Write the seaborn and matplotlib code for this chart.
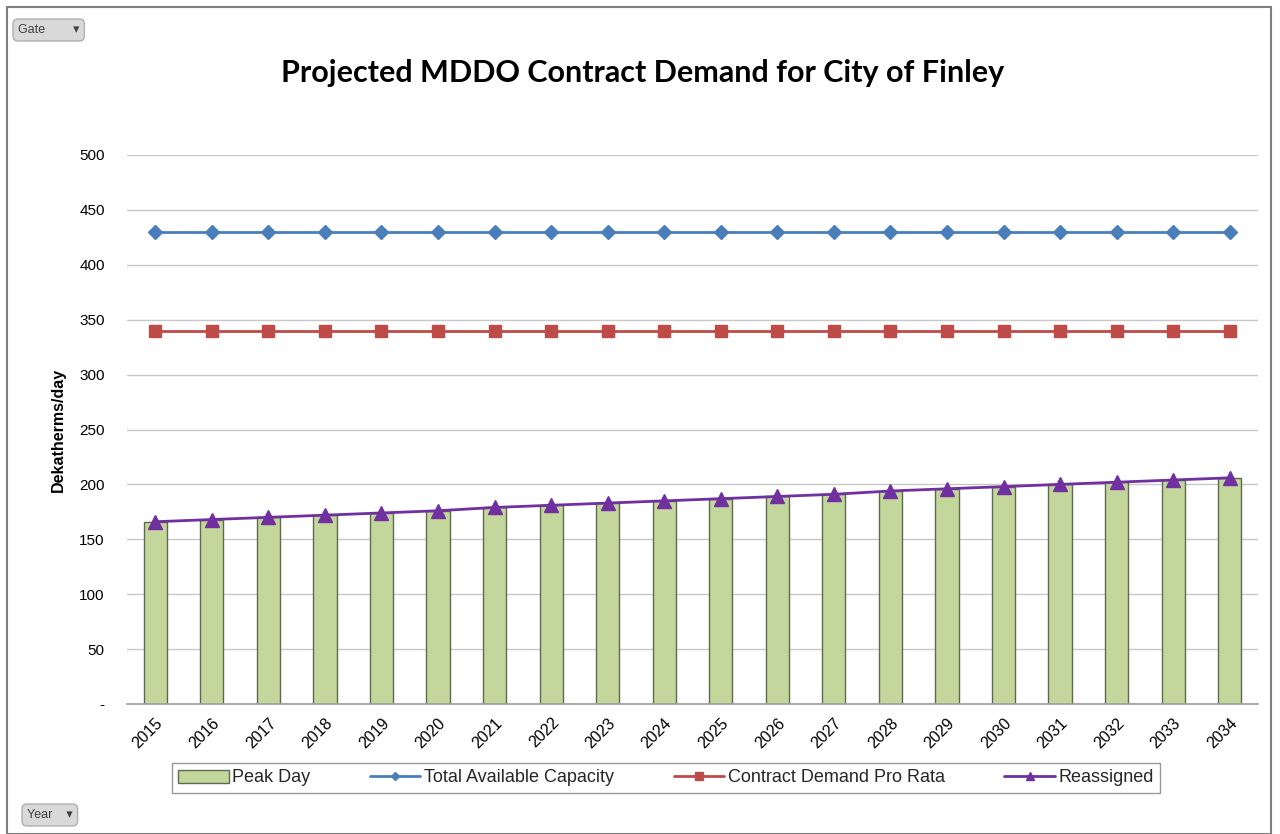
import numpy as np
import pandas as pd
import matplotlib
matplotlib.use('Agg')
import matplotlib.pyplot as plt
import seaborn as sns
from matplotlib.patches import Rectangle

# Dados do grafico
anos = [str(a) for a in range(2015, 2035)]
peak_day = [166, 168, 170, 172, 174, 176, 179, 181, 183, 185,
            187, 189, 191, 194, 196, 198, 200, 202, 204, 206]
capacidade_total = [430] * 20
contrato_pro_rata = [340] * 20
reatribuido = [166, 168, 170, 172, 174, 176, 179, 181, 183, 185,
               187, 189, 191, 194, 196, 198, 200, 202, 204, 206]
y_ticks = [0, 50, 100, 150, 200, 250, 300, 350, 400, 450, 500]
y_labels = ['-', '50', '100', '150', '200', '250', '300', '350', '400', '450', '500']

sns.set_theme(style='white')
plt.rcParams['font.family'] = ['Liberation Sans', 'DejaVu Sans']

df = pd.DataFrame({'Ano': anos, 'Peak Day': peak_day})

fig = plt.figure(figsize=(12.8, 8.34), dpi=100)
ax = fig.add_axes([127 / 1280, 1 - 704 / 834, (1258 - 127) / 1280, (704 - 155) / 834])

sns.barplot(data=df, x='Ano', y='Peak Day', color='#c3d69b', edgecolor='#5e6b4e',
            linewidth=1.0, width=0.41, saturation=1, ax=ax, label='Peak Day', zorder=2)

x = np.arange(len(anos))
ax.plot(x, capacidade_total, color='#4a7ebb', lw=2, marker='D', ms=7.5,
        label='Total Available Capacity', zorder=3)
ax.plot(x, contrato_pro_rata, color='#be4b48', lw=2, marker='s', ms=8.5,
        label='Contract Demand Pro Rata', zorder=3)
ax.plot(x, reatribuido, color='#7030a0', lw=2, marker='^', ms=9.5,
        label='Reassigned', zorder=4)

ax.set_xlim(-0.5, len(anos) - 0.5)
ax.set_ylim(0, 500)
ax.set_yticks(y_ticks)
ax.set_yticklabels(y_labels, fontsize=11, color='black')
ax.set_xticks(x)
ax.set_xticklabels(anos, rotation=45, ha='right', rotation_mode='anchor', fontsize=11.5, color='black')
ax.tick_params(axis='y', length=0, pad=16)
ax.tick_params(axis='x', length=0, pad=8)
ax.yaxis.grid(True, color='#c8c8c8', lw=1)
ax.set_axisbelow(True)
for s in ['top', 'right', 'left']:
    ax.spines[s].set_visible(False)
ax.spines['bottom'].set_color('#a0a0a0')
ax.set_xlabel('')
ax.set_ylabel('Dekatherms/day', fontsize=11.5, fontweight='bold', color='black', labelpad=10)

fig.text(643 / 1280, 1 - 73 / 834, 'Projected MDDO Contract Demand for City of Finley',
         ha='center', va='center', fontsize=22, fontweight='bold', color='black',
         family=['Lato', 'DejaVu Sans'])

handles, labels = ax.get_legend_handles_labels()
if ax.get_legend() is not None:
    ax.get_legend().remove()
ordem = ['Peak Day', 'Total Available Capacity', 'Contract Demand Pro Rata', 'Reassigned']
hl = {l: h for h, l in zip(handles, labels)}
leg = fig.legend([hl[o] for o in ordem], ordem, loc='center', ncol=4,
                 bbox_to_anchor=(666 / 1280, 1 - 778 / 834), fontsize=13,
                 frameon=True, fancybox=False, edgecolor='#808080',
                 handlelength=2.8, handletextpad=0.2, columnspacing=3.3, borderpad=0.35,
                 markerscale=0.6)
leg.get_frame().set_linewidth(1)

# moldura externa e botoes
fig.patches.append(Rectangle((7 / 1280, 0), 1264 / 1280, 1 - 7 / 834, transform=fig.transFigure,
                             fill=False, edgecolor='#7f7f7f', lw=1.5))
fig.text(18 / 1280, 1 - 30 / 834, 'Gate        \u25be', fontsize=9, color='#404040', va='center',
         bbox=dict(boxstyle='round,pad=0.4', fc='#d9d9d9', ec='#b0b0b0'))
fig.text(27 / 1280, 1 - 815 / 834, 'Year    \u25be', fontsize=9, color='#404040', va='center',
         bbox=dict(boxstyle='round,pad=0.4', fc='#d9d9d9', ec='#b0b0b0'))

fig.savefig('out.png', dpi=100)
